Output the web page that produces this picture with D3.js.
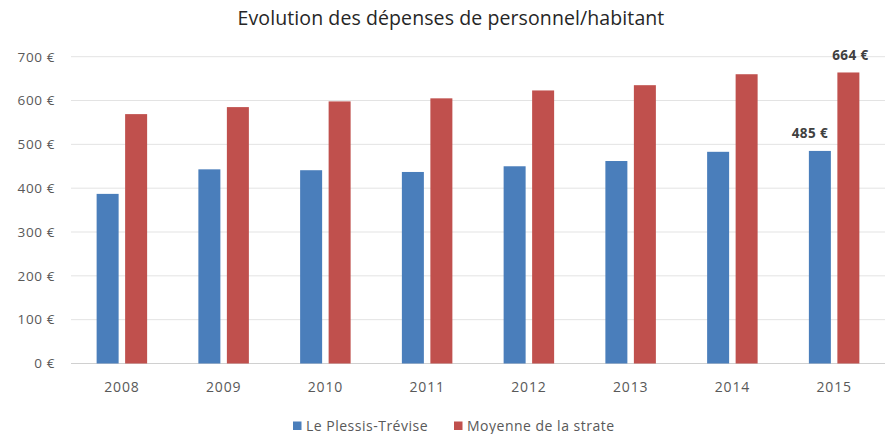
<!DOCTYPE html>
<html><head><meta charset="utf-8">
<script src="https://cdn.jsdelivr.net/npm/d3@7"></script>
<style>body{margin:0;background:#fff}svg{display:block}</style>
</head><body>
<svg id="c" width="891" height="434"></svg>
<script>
const years = ["2008","2009","2010","2011","2012","2013","2014","2015"];
const plessis = [387, 443, 441, 437, 450, 462, 483, 485];
const strate = [569, 585, 598, 605, 623, 635, 660, 664];
const yTicks = [0,100,200,300,400,500,600,700];
const seriesNames = ["Le Plessis-Trévise", "Moyenne de la strate"];
const colors = ["#4a7ebb", "#c0504d"];
const title = "Evolution des dépenses de personnel/habitant";
const labelled = [{series:0, idx:7, dx:-10}, {series:1, idx:7, dx:2}];

(function(){
const svg = d3.select("#c");
const font = "'Open Sans', 'Noto Sans', sans-serif";
const pLeft = 71, pRight = 885, pTop = 56.7, pBottom = 363.5;

const x = d3.scaleBand().domain(years).range([pLeft, pRight]).padding(0);
const y = d3.scaleLinear().domain([0,700]).range([pBottom, pTop]);
const barW = 22, gap = 6.5;

svg.append("g").selectAll("line").data(yTicks).join("line")
  .attr("x1", pLeft).attr("x2", pRight)
  .attr("y1", d=>y(d)).attr("y2", d=>y(d))
  .attr("stroke", d=> d===0 ? "#d0d0d0" : "#e3e3e3").attr("stroke-width", 1);

const yAxis = d3.axisLeft(y).tickValues(yTicks).tickSize(0).tickPadding(0)
  .tickFormat(d => d + " €");
const gy = svg.append("g").attr("transform", `translate(55,0)`).call(yAxis);
gy.select(".domain").remove();
gy.selectAll("text").attr("font-family", font).attr("font-size", 13.5)
  .attr("letter-spacing", 0.6).attr("fill", "#595959");

const xAxis = d3.axisBottom(x).tickSize(0).tickPadding(0);
const gx = svg.append("g").attr("transform", `translate(0,${pBottom+19})`).call(xAxis);
gx.select(".domain").remove();
gx.selectAll("text").attr("font-family", font).attr("font-size", 14)
  .attr("letter-spacing", 0.8).attr("fill", "#595959");

const series = [plessis, strate];
series.forEach((vals, s) => {
  svg.append("g").selectAll("rect").data(vals).join("rect")
    .attr("x", (d,i) => {
      const c = x(years[i]) + x.bandwidth()/2;
      return s===0 ? c - gap/2 - barW : c + gap/2;
    })
    .attr("y", d => y(d))
    .attr("width", barW)
    .attr("height", d => y(0) - y(d))
    .attr("fill", colors[s]);
});

labelled.forEach(l => {
  const v = series[l.series][l.idx];
  const c = x(years[l.idx]) + x.bandwidth()/2;
  const cx = l.series===0 ? c - gap/2 - barW/2 : c + gap/2 + barW/2;
  svg.append("text").attr("x", cx + l.dx).attr("y", y(v) - 12.5)
    .attr("text-anchor", "middle").attr("font-family", font)
    .attr("font-size", 13.5).attr("letter-spacing", 0.4).attr("font-weight", "bold").attr("fill", "#404040")
    .text(v + " €");
});

svg.append("text").attr("x", 451).attr("y", 25).attr("text-anchor", "middle")
  .attr("font-family", font).attr("font-size", 19.5).attr("letter-spacing", 0.1)
  .attr("fill", "#262626")
  .text(title);

const legX = [293, 454];
seriesNames.forEach((n, i) => {
  svg.append("rect").attr("x", legX[i]).attr("y", 421.5).attr("width", 8.5).attr("height", 8.5).attr("fill", colors[i]);
  svg.append("text").attr("x", legX[i] + 13).attr("y", 431)
    .attr("font-family", font).attr("font-size", 14).attr("letter-spacing", 0.5)
    .attr("fill", "#595959").text(n);
});
})();
</script>
</body></html>
